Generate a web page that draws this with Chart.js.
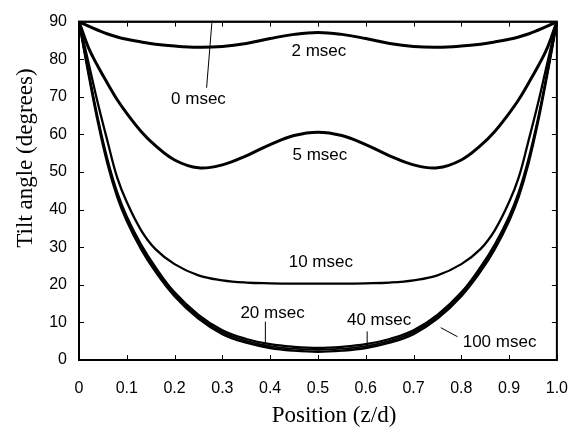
<!DOCTYPE html>
<html>
<head>
<meta charset="utf-8">
<script src="https://cdn.jsdelivr.net/npm/chart.js@4.4.1/dist/chart.umd.min.js"></script>
<style>
  html, body { margin: 0; padding: 0; background: #fff; }
  #wrap { width: 587px; height: 428px; }
</style>
</head>
<body>
<div id="wrap"><canvas id="tilt"></canvas></div>
<script>
// position across the cell (z/d)
const positions = [0, 0.02, 0.04, 0.06, 0.08, 0.1, 0.13, 0.16, 0.2, 0.25, 0.3, 0.35, 0.4, 0.45, 0.5,
                   0.55, 0.6, 0.65, 0.7, 0.75, 0.8, 0.84, 0.87, 0.9, 0.92, 0.94, 0.96, 0.98, 1];

// tilt angle (degrees) at each position, one array per time
const tilt0 = [90, 90, 90, 90, 90, 90, 90, 90, 90, 90, 90, 90, 90, 90, 90,
               90, 90, 90, 90, 90, 90, 90, 90, 90, 90, 90, 90, 90, 90];
const tilt2 = [90, 88.8, 87.7, 86.7, 85.9, 85.3, 84.6, 84, 83.5, 83.2, 83.4, 84.2, 85.5, 86.6, 87.1,
               86.6, 85.5, 84.2, 83.4, 83.2, 83.5, 84, 84.6, 85.3, 85.9, 86.7, 87.7, 88.8, 90];
const tilt5 = [90, 83, 78, 73.5, 69.2, 65.6, 60.8, 57, 53.2, 51.1, 51.9, 54.3, 57.3, 59.7, 60.6,
               59.7, 57.3, 54.3, 51.9, 51.1, 53.2, 57, 60.8, 65.6, 69.2, 73.5, 78, 83, 90];
const tilt10 = [90, 79, 68, 58, 48.5, 42, 34.5, 29.5, 25.5, 22.5, 21.2, 20.6, 20.4, 20.3, 20.3,
                20.3, 20.4, 20.6, 21.2, 22.5, 25.5, 29.5, 34.5, 42, 48.5, 58, 68, 79, 90];
const tilt20 = [90, 76.6, 64, 53.2, 44.6, 38.2, 30.7, 24.7, 18, 12, 7.9, 5.6, 4.2, 3.5, 3.2,
                3.5, 4.2, 5.6, 7.9, 12, 18, 24.7, 30.7, 38.2, 44.6, 53.2, 64, 76.6, 90];
const tilt40 = [90, 76.3, 63.5, 52.6, 44, 37.6, 30.1, 24.1, 17.5, 11.5, 7.4, 5.1, 3.7, 3, 2.7,
                3, 3.7, 5.1, 7.4, 11.5, 17.5, 24.1, 30.1, 37.6, 44, 52.6, 63.5, 76.3, 90];
const tilt100 = [90, 76, 63, 52, 43.4, 37, 29.5, 23.5, 17, 11, 6.9, 4.6, 3.2, 2.5, 2.2,
                 2.5, 3.2, 4.6, 6.9, 11, 17, 23.5, 29.5, 37, 43.4, 52, 63, 76, 90];

const xTicks = [0, 0.1, 0.2, 0.3, 0.4, 0.5, 0.6, 0.7, 0.8, 0.9, 1.0];
const yTicks = [0, 10, 20, 30, 40, 50, 60, 70, 80, 90];

function pts(vals) {
  return positions.map((p, i) => ({ x: p, y: vals[i] }));
}
function ds(label, vals, w) {
  return {
    label: label, data: pts(vals), borderColor: '#000', borderWidth: w,
    pointRadius: 0, tension: 0.4, fill: false
  };
}

// curve labels and pointer lines, in data units
const notes = [
  { text: '0 msec', x: 0.25, y: 69.4, line: [0.267, 72.4, 0.278, 89.6] },
  { text: '2 msec', x: 0.502, y: 82 },
  { text: '5 msec', x: 0.504, y: 54.4 },
  { text: '10 msec', x: 0.506, y: 26.1 },
  { text: '20 msec', x: 0.405, y: 12.4, line: [0.39, 10.2, 0.39, 4.0] },
  { text: '40 msec', x: 0.628, y: 10.6, line: [0.603, 7.6, 0.603, 3.1] },
  { text: '100 msec', x: 0.88, y: 4.7, line: [0.792, 6.2, 0.757, 8.6] }
];

const decor = {
  id: 'decor',
  afterDatasetsDraw(chart) {
    const c = chart.ctx, a = chart.chartArea;
    const sx = chart.scales.x, sy = chart.scales.y;
    c.save();
    // frame
    c.strokeStyle = '#000';
    c.lineWidth = 2;
    c.strokeRect(a.left, a.top, a.right - a.left, a.bottom - a.top);
    // inward ticks on all sides
    c.lineWidth = 1;
    c.beginPath();
    xTicks.forEach(t => {
      const px = Math.round(sx.getPixelForValue(t)) + 0.5;
      c.moveTo(px, a.bottom); c.lineTo(px, a.bottom - 5);
      c.moveTo(px, a.top); c.lineTo(px, a.top + 5);
    });
    yTicks.forEach(t => {
      const py = Math.round(sy.getPixelForValue(t)) + 0.5;
      c.moveTo(a.left, py); c.lineTo(a.left + 5, py);
      c.moveTo(a.right, py); c.lineTo(a.right - 5, py);
    });
    c.stroke();
    // notes
    c.font = '17px "Liberation Sans", Arial, sans-serif';
    c.fillStyle = '#000';
    c.textAlign = 'center';
    c.textBaseline = 'middle';
    notes.forEach(n => {
      c.fillText(n.text, sx.getPixelForValue(n.x), sy.getPixelForValue(n.y));
      if (n.line) {
        c.beginPath();
        c.moveTo(sx.getPixelForValue(n.line[0]), sy.getPixelForValue(n.line[1]));
        c.lineTo(sx.getPixelForValue(n.line[2]), sy.getPixelForValue(n.line[3]));
        c.stroke();
      }
    });
    // axis titles
    c.font = '23px "Liberation Serif", "Times New Roman", serif';
    c.fillText('Position (z/d)', 334, 416);
    c.translate(26, 158);
    c.rotate(-Math.PI / 2);
    c.fillText('Tilt angle (degrees)', 0, 0);
    c.restore();
  }
};

new Chart(document.getElementById('tilt'), {
  type: 'line',
  data: {
    datasets: [
      ds('0 msec', tilt0, 2.5),
      ds('2 msec', tilt2, 3),
      ds('5 msec', tilt5, 3),
      ds('10 msec', tilt10, 2.3),
      ds('20 msec', tilt20, 2.2),
      ds('40 msec', tilt40, 1.8),
      ds('100 msec', tilt100, 2.4)
    ]
  },
  options: {
    responsive: true,
    maintainAspectRatio: false,
    animation: false,
    layout: { padding: { top: 19, right: 24, left: 0, bottom: 0 } },
    plugins: { legend: { display: false }, tooltip: { enabled: false } },
    scales: {
      x: {
        type: 'linear', min: 0, max: 1,
        afterBuildTicks: s => { s.ticks = xTicks.map(v => ({ value: v })); },
        afterFit: s => { s.height = 68; },
        grid: { display: false, drawTicks: false },
        border: { display: false },
        ticks: {
          padding: 19, color: '#000',
          font: { family: '"Liberation Sans", Arial, sans-serif', size: 16 },
          callback: v => (v === 0 ? '0' : v.toFixed(1))
        }
      },
      y: {
        type: 'linear', min: 0, max: 90,
        afterBuildTicks: s => { s.ticks = yTicks.map(v => ({ value: v })); },
        afterFit: s => { s.width = 79; },
        grid: { display: false, drawTicks: false },
        border: { display: false },
        ticks: {
          padding: 12, color: '#000',
          font: { family: '"Liberation Sans", Arial, sans-serif', size: 16 }
        }
      }
    }
  },
  plugins: [decor]
});
</script>
</body>
</html>
